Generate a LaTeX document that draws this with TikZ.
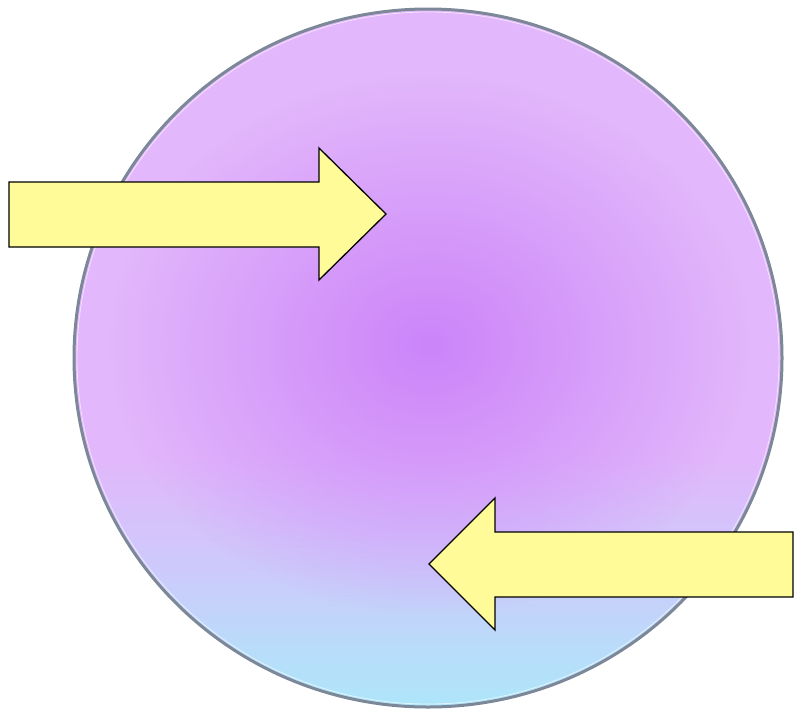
\documentclass[tikz,border=0pt]{standalone}
\usetikzlibrary{fadings}
\definecolor{Viola}{HTML}{CC84F9}
\definecolor{Lilla}{HTML}{E2B7FB}
\definecolor{Celeste}{HTML}{AEE6FA}
\definecolor{Bordo}{HTML}{7C8898}
\definecolor{Giallo}{HTML}{FEFB98}
\pgfdeclareverticalshading{fondo}{100bp}{color(0bp)=(Celeste); color(25bp)=(Celeste); color(29bp)=(Celeste!80!Lilla); color(35bp)=(Celeste!40!Lilla); color(43bp)=(Lilla); color(100bp)=(Lilla)}
\tikzfading[name=alone, inner color=transparent!0, outer color=transparent!100]
\tikzset{
    freccia/.style={fill=Giallo, draw=black, line width=1.3pt, line join=miter},
    disco/.style={draw=Bordo, line width=3pt},
}

\begin{document}
\begin{tikzpicture}[x=1pt, y=-1pt]
    \useasboundingbox (0,0) rectangle (794,710);

    % Disco sfumato
    \coordinate (centro) at (428,358);
    \shade[shading=fondo] (centro) ellipse (354 and 349);
    \fill[Viola, path fading=alone] (430,345) ellipse (320 and 270);
    \draw[disco] (centro) ellipse (354 and 349);
    \draw[white, line width=0.8pt, opacity=0.6] (centro) ellipse (351 and 346);

    % Freccia da sinistra
    \draw[freccia] (9,182) -- (319,182) -- (319,148) -- (386,214)
        -- (319,280) -- (319,247) -- (9,247) -- cycle;

    % Freccia da destra
    \draw[freccia] (793,532) -- (495,532) -- (495,498) -- (429,564)
        -- (495,630) -- (495,597) -- (793,597) -- cycle;
\end{tikzpicture}
\end{document}
